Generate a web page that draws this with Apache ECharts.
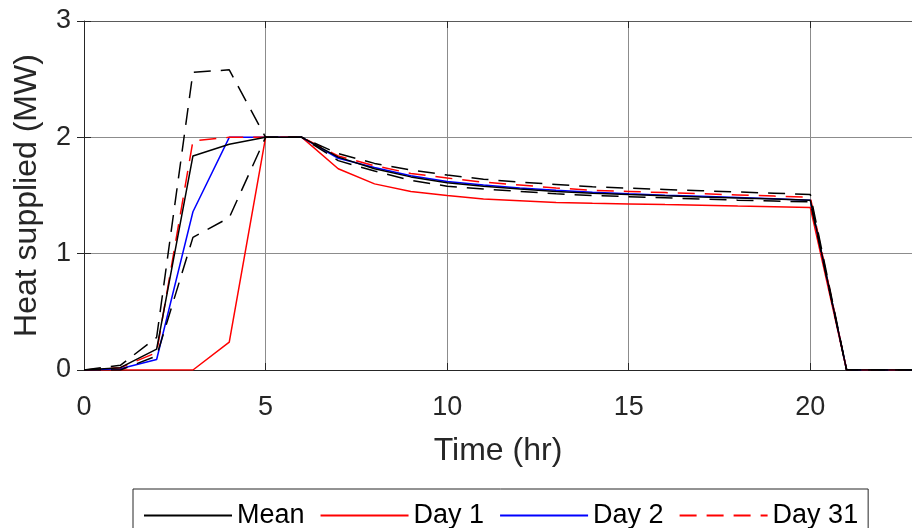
<!DOCTYPE html>
<html>
<head>
<meta charset="utf-8">
<script src="https://cdn.jsdelivr.net/npm/echarts@6/dist/echarts.min.js"></script>
<style>
  html, body { margin: 0; padding: 0; background: #fff; }
  #chart { width: 912px; height: 528px; }
</style>
</head>
<body>
<div id="chart"></div>
<script>
// hours 0..23
const hours = [0,1,2,3,4,5,6,7,8,9,10,11,12,13,14,15,16,17,18,19,20,21,22,23];
const meanVals  = [0,0.02,0.18,1.84,1.94,2.0,2.0,1.83,1.73,1.66,1.61,1.58,1.555,1.535,1.52,1.508,1.497,1.487,1.478,1.47,1.46,0,0,0];
const upperVals = [0,0.04,0.28,2.56,2.58,2.0,2.0,1.86,1.776,1.72,1.676,1.64,1.615,1.595,1.575,1.563,1.552,1.541,1.53,1.52,1.509,0,0,0];
const lowerVals = [0,0,0.12,1.14,1.31,2.0,2.0,1.80,1.71,1.63,1.58,1.555,1.535,1.515,1.50,1.49,1.48,1.47,1.46,1.452,1.445,0,0,0];
const day1Vals  = [0,0,0,0,0.24,2.0,2.0,1.73,1.60,1.535,1.50,1.47,1.455,1.44,1.433,1.428,1.422,1.417,1.41,1.404,1.397,0,0,0];
const day2Vals  = [0,0.01,0.09,1.36,2.0,2.0,2.0,1.82,1.74,1.67,1.62,1.59,1.565,1.545,1.527,1.514,1.503,1.493,1.483,1.472,1.46,0,0,0];
const day31Vals = [0,0.02,0.15,1.97,2.0,2.0,2.0,1.84,1.756,1.69,1.65,1.615,1.59,1.565,1.545,1.535,1.525,1.515,1.505,1.495,1.485,0,0,0];
const xTicks = [0, 5, 10, 15, 20];
const yTicks = [0, 1, 2, 3];

const FONT = "'Liberation Sans', Arial, sans-serif";
const pts = vals => hours.map((h, i) => [h, vals[i]]);

function line(name, vals, color, dashed) {
  return {
    name: name,
    type: "line",
    data: pts(vals),
    symbol: "none",
    silent: true,
    lineStyle: { color: color, width: 1.5, type: dashed ? [17, 10] : "solid" },
    itemStyle: { color: color },
  };
}

const chart = echarts.init(document.getElementById("chart"));
chart.setOption({
  animation: false,
  backgroundColor: "#fff",
  grid: { left: 84, right: 0, top: 21, bottom: 158, containLabel: false, outerBoundsMode: "none" },
  legend: {
    data: ["Mean", "Day 1", "Day 2", "Day 31"],
    left: 133,
    top: 489,
    padding: [13, 10, 13, 10],
    borderColor: "#262626",
    borderWidth: 1,
    itemWidth: 88,
    itemHeight: 14,
    itemGap: 15,
    itemStyle: { opacity: 0 },
    textStyle: { fontFamily: FONT, fontSize: 27, color: "#000" },
  },
  xAxis: [
    {
      type: "value",
      min: 0,
      max: 22.8,
      interval: 5,
      name: "Time (hr)",
      nameLocation: "middle",
      nameGap: 65,
      nameTextStyle: { fontFamily: FONT, fontSize: 32, color: "#262626" },
      axisLine: { show: true, lineStyle: { color: "#262626", width: 1 } },
      axisTick: { show: true, inside: true, length: 7, lineStyle: { color: "#262626" } },
      axisLabel: {
        fontFamily: FONT, fontSize: 27, color: "#262626", margin: 24, showMaxLabel: false,
        formatter: v => (xTicks.indexOf(v) >= 0 ? String(v) : ""),
      },
      splitLine: { show: true, lineStyle: { color: "#8c8c8c", width: 1 } },
    },
    {
      type: "value",
      position: "top",
      min: 0,
      max: 22.8,
      interval: 5,
      axisLine: { show: true, onZero: false, lineStyle: { color: "#5a5a5a", width: 1 } },
      axisTick: { show: true, inside: true, length: 7, lineStyle: { color: "#262626" } },
      axisLabel: { show: false },
      splitLine: { show: false },
    },
  ],
  yAxis: [
    {
      type: "value",
      min: 0,
      max: 3,
      interval: 1,
      name: "Heat supplied (MW)",
      nameLocation: "middle",
      nameGap: 31,
      nameTextStyle: { fontFamily: FONT, fontSize: 32, color: "#262626", padding: [0, 0, 10, 0] },
      axisLine: { show: true, lineStyle: { color: "#262626", width: 1 } },
      axisTick: { show: true, inside: true, length: 7, lineStyle: { color: "#262626" } },
      axisLabel: {
        fontFamily: FONT, fontSize: 27, color: "#262626", margin: 13,
        formatter: v => (yTicks.indexOf(v) >= 0 ? String(v) : ""),
      },
      splitLine: { show: true, lineStyle: { color: "#8c8c8c", width: 1 } },
    },
    {
      type: "value",
      position: "right",
      min: 0,
      max: 3,
      interval: 1,
      axisLine: { show: false },
      axisTick: { show: true, inside: true, length: 7, lineStyle: { color: "#262626" } },
      axisLabel: { show: false },
      splitLine: { show: false },
    },
  ],
  series: [
    line("Day 1", day1Vals, "#ff0000", false),
    line("Day 2", day2Vals, "#0000ff", false),
    line("Day 31", day31Vals, "#ff0000", true),
    line("Mean + SD", upperVals, "#000000", true),
    line("Mean - SD", lowerVals, "#000000", true),
    line("Mean", meanVals, "#000000", false),
  ],
});
</script>
</body>
</html>
